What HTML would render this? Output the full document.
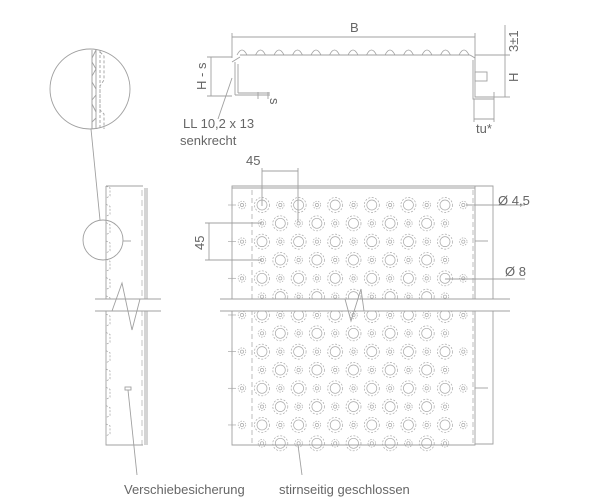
<!DOCTYPE html>
<html><head><meta charset="utf-8"><style>
html,body{margin:0;padding:0;background:#fff}
svg{display:block}
text{font-family:"Liberation Sans",sans-serif;fill:#666;font-size:13px}
</style></head><body>
<svg id="s" width="600" height="500" viewBox="0 0 600 500" xmlns="http://www.w3.org/2000/svg">
<g id="circ" fill="none" stroke="#a8a8a8" stroke-width="0.7"></g>
<g fill="none" stroke="#a0a0a0" stroke-width="0.9">
<!-- top profile -->
<line x1="232" y1="37" x2="475" y2="37"/>
<line x1="232" y1="33" x2="232" y2="58"/><line x1="475" y1="33" x2="475" y2="58"/>
<path d="M240 55 L470 55 M232 62 L240 57 M235 95 L235 62 M235 95 L270 95 M238 93 L238 64 M238 93 L270 93"/>
<path id="bumps" d="" stroke-width="0.8"/>
<path d="M470 55 L475 58 L475 97 L494 97 M473 60 L473 99 L494 99"/>
<rect x="475" y="72" width="12" height="9"/>
<line x1="475" y1="55" x2="510" y2="55"/><line x1="494" y1="97" x2="510" y2="97"/>
<line x1="505" y1="25" x2="505" y2="97"/>
<line x1="207" y1="57" x2="232" y2="57"/><line x1="207" y1="96" x2="232" y2="96"/>
<line x1="211" y1="57" x2="211" y2="96"/>
<line x1="258" y1="92" x2="258" y2="99"/><line x1="268" y1="92" x2="268" y2="99"/>
<line x1="474" y1="99" x2="474" y2="122"/><line x1="494" y1="92" x2="494" y2="122"/>
<line x1="474" y1="119" x2="494" y2="119"/>
<line x1="218" y1="119" x2="232" y2="78"/>
<!-- big magnifier -->
<circle cx="90" cy="89" r="40"/>
<path d="M92 50 V129 M96 50 V129" />
<path d="M96 50 L92 58 L92 62 L96 69 L92 76 L92 82 L96 89 M96 95 L92 100 L92 104 L96 112 M96 118 L92 122 V129" />
<path d="M100 50 V129 M100 52 L104 56 V80 L100 86 V110 L104 114 V129" stroke-dasharray="3,2"/>
<line x1="91" y1="129" x2="100" y2="220"/>
<!-- side view -->
<circle cx="103" cy="240" r="20"/>
<line x1="123" y1="241" x2="131" y2="241"/>
<path d="M106 186 H143 M106 186 V445 H143 M145 188 V445 M147 188 V445" />
<path d="M142 190 V445" stroke-dasharray="6,4" stroke-width="0.6"/>
<path id="sb" d="" stroke-dasharray="2,1.5" stroke-width="0.7"/>
<rect x="125" y="387" width="6" height="3"/>
<line x1="128" y1="390" x2="137" y2="475"/>
<!-- plate -->
<path d="M232 186 H475 V445 H232 Z M232 188 H475"/>
<path d="M252 190 V445 M473 190 V445" stroke-dasharray="5,3" stroke-width="0.7"/>
<path d="M475 186 H493 V444 H475"/>
<line x1="475" y1="241" x2="488" y2="241"/><line x1="475" y1="388" x2="488" y2="388"/>
<line x1="298" y1="445" x2="302" y2="475"/>
<!-- dims 45 -->
<line x1="262" y1="168" x2="262" y2="206"/><line x1="298" y1="168" x2="298" y2="222"/>
<line x1="262" y1="171" x2="298" y2="171"/>
<line x1="205" y1="223" x2="262" y2="223"/><line x1="205" y1="260" x2="262" y2="260"/>
<line x1="209" y1="223" x2="209" y2="260"/>
<line x1="466" y1="205" x2="525" y2="205"/>
<line x1="445" y1="279" x2="525" y2="279"/>
</g>
<!-- break bands -->
<rect x="95" y="299" width="66" height="12" fill="#fff"/>
<rect x="220" y="299" width="290" height="12" fill="#fff"/>
<g fill="none" stroke="#a0a0a0" stroke-width="0.9">
<path d="M95 299 H161 M95 311 H161 M220 299 H510 M220 311 H510"/>
<path d="M112 311 L122 283 L132 330 L140 299"/>
<path d="M345 299 L351 321 L361 289 L364 311" />
</g>
<text x="350" y="32">B</text>
<text x="183" y="128">LL 10,2 x 13</text>
<text x="180" y="145">senkrecht</text>
<text x="476" y="133">tu*</text>
<text x="246" y="165">45</text>
<text x="498" y="205">Ø 4,5</text>
<text x="505" y="276">Ø 8</text>
<text x="124" y="494">Verschiebesicherung</text>
<text x="279" y="494">stirnseitig geschlossen</text>
<text transform="translate(206,90) rotate(-90)">H - s</text>
<text transform="translate(518,82) rotate(-90)">H</text>
<text transform="translate(518,52) rotate(-90)">3±1</text>
<text transform="translate(270,98) rotate(90)">s</text>
<text transform="translate(204,250) rotate(-90)">45</text>
</svg>
<script>
var ns="http://www.w3.org/2000/svg",g=document.getElementById("circ");
function c(x,y,r,d){var e=document.createElementNS(ns,"circle");e.setAttribute("cx",x);e.setAttribute("cy",y);e.setAttribute("r",r);if(d)e.setAttribute("stroke-dasharray",d);g.appendChild(e);}
function l(x1,y1,x2,y2){var e=document.createElementNS(ns,"line");e.setAttribute("x1",x1);e.setAttribute("y1",y1);e.setAttribute("x2",x2);e.setAttribute("y2",y2);g.appendChild(e);}
for(var k=0;k<14;k++){var y=205+18.33*k;if(y>445)break;
 var n=(k%2==0)?12:11;
 for(var i=0;i<n;i++){var x=262+18.3*i;
  var big=((i+k)%2==0);
  if(big){c(x,y,5);c(x,y,7.5,"2,1.5");}else{c(x,y,1.6);c(x,y,3.8,"1.5,1.2");}
 }
 if(k%2==0){c(242,y,1.6);c(242,y,3.8,"1.5,1.2");l(228,y,236,y);l(232,y-4,232,y+4);}
}
var d="";for(var x=242;x<470;x+=18.5){d+="M"+(x-5)+" 55 Q"+x+" 45 "+(x+5)+" 55 ";}
document.getElementById("bumps").setAttribute("d",d);
var s="";for(var y=192;y<445;y+=18.3){s+="M106 "+(y-6)+" L110 "+(y-4)+" V"+(y+4)+" L106 "+(y+6)+" ";}
document.getElementById("sb").setAttribute("d",s);
</script>
</body></html>
